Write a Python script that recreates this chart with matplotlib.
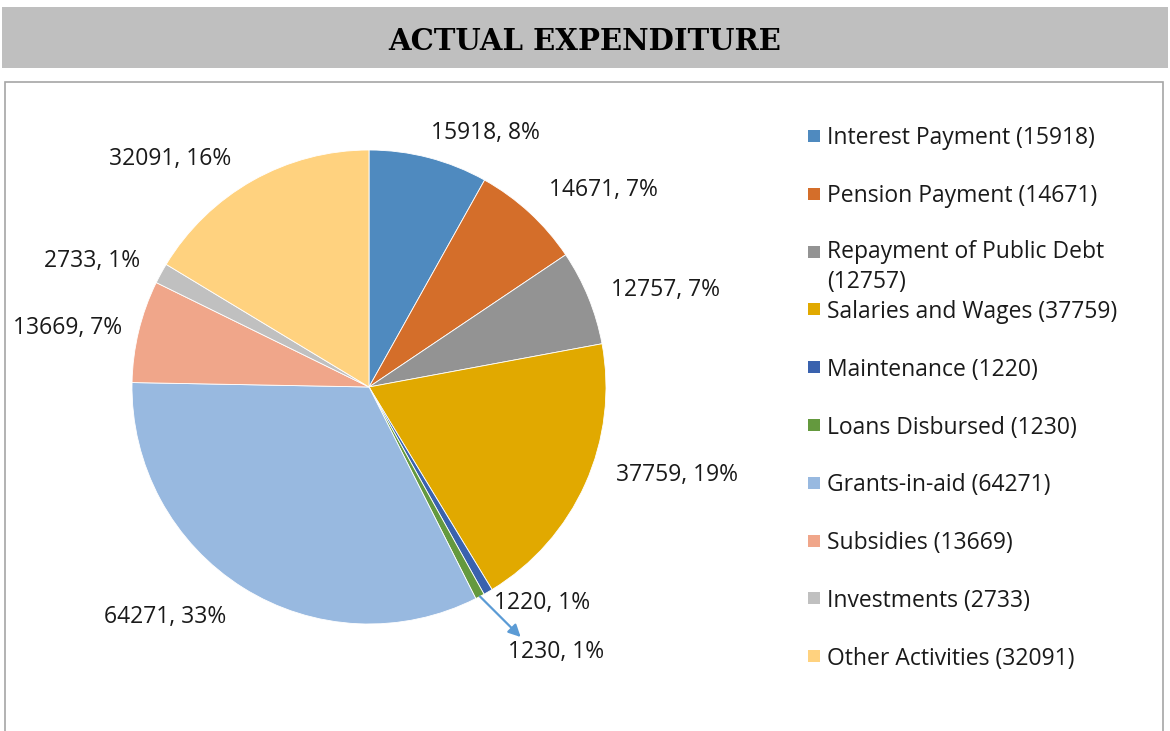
import matplotlib.pyplot as plt
from matplotlib.patches import Rectangle
import numpy as np

categories = ["Interest Payment", "Pension Payment", "Repayment of Public Debt",
              "Salaries and Wages", "Maintenance", "Loans Disbursed",
              "Grants-in-aid", "Subsidies", "Investments", "Other Activities"]
values = [15918, 14671, 12757, 37759, 1220, 1230, 64271, 13669, 2733, 32091]
percents = [8, 7, 7, 19, 1, 1, 33, 7, 1, 16]   # as printed on the chart
colors = ["#4f8abf", "#d46e2a", "#939393", "#e1a900", "#3a62ae",
          "#64993e", "#98b9e0", "#f0a68a", "#c0c0c0", "#ffd27f"]

# label placement, in pie radii from the centre
label_pos = [(0.49, 1.07), (0.99, 0.83), (1.25, 0.41), (1.30, -0.37),
             (0.73, -0.91), (0.79, -1.12), (-0.86, -0.97), (-1.27, 0.25),
             (-1.17, 0.53), (-0.84, 0.96)]

W, H = 1170, 731
fig = plt.figure(figsize=(W / 100, H / 100), dpi=100)
ax = fig.add_axes([0, 0, 1, 1])
ax.set_xlim(0, W)
ax.set_ylim(0, H)
ax.set_aspect("equal")
ax.axis("off")

font = "Open Sans"
fs = 16.5

# title band and chart frame
ax.add_patch(Rectangle((2, H - 68), 1166, 61, facecolor="#bfbfbf", edgecolor="none"))
ax.text(585, H - 41, "ACTUAL EXPENDITURE", ha="center", va="center",
        fontsize=21, fontweight="bold", family="DejaVu Serif")
ax.add_patch(Rectangle((4.5, -5), 1158, H - 82 + 5, facecolor="none",
                       edgecolor="#a6a6a6", linewidth=1.2))

cx, cy, R = 369, H - 387, 237
wedges, _ = ax.pie(values, colors=colors, startangle=90, counterclock=False,
                   center=(cx, cy), radius=R,
                   wedgeprops=dict(linewidth=0.6, edgecolor="white"))
ax.set_xlim(0, W)
ax.set_ylim(0, H)

for v, p, (px, py) in zip(values, percents, label_pos):
    ax.text(cx + px * R, cy + py * R, f"{v}, {p}%", ha="center", va="center",
            fontsize=fs, family=font, color="#1a1a1a")

# leader arrow for the thin Loans Disbursed slice
w = wedges[5]
mid = np.deg2rad((w.theta1 + w.theta2) / 2)
ax.annotate("", xy=(cx + 0.64 * R, cy - 1.055 * R),
            xytext=(cx + R * np.cos(mid), cy + R * np.sin(mid)),
            arrowprops=dict(arrowstyle="-|>", color="#5b9bd5", lw=1.6,
                            mutation_scale=18, shrinkA=0, shrinkB=0))

# legend
for i, (name, v, c) in enumerate(zip(categories, values, colors)):
    y = H - 136 - i * 57.8
    ax.add_patch(Rectangle((808, y - 6), 12, 12, facecolor=c, edgecolor="none"))
    label = f"{name} ({v})"
    if name == "Repayment of Public Debt":
        ax.text(827, y + 12, f"{name}\n({v})", ha="left", va="top", fontsize=fs,
                family=font, color="#1a1a1a", linespacing=1.35)
    else:
        ax.text(827, y - 2.5, label, ha="left", va="center", fontsize=fs,
                family=font, color="#1a1a1a")

fig.savefig("out.png", dpi=100)
